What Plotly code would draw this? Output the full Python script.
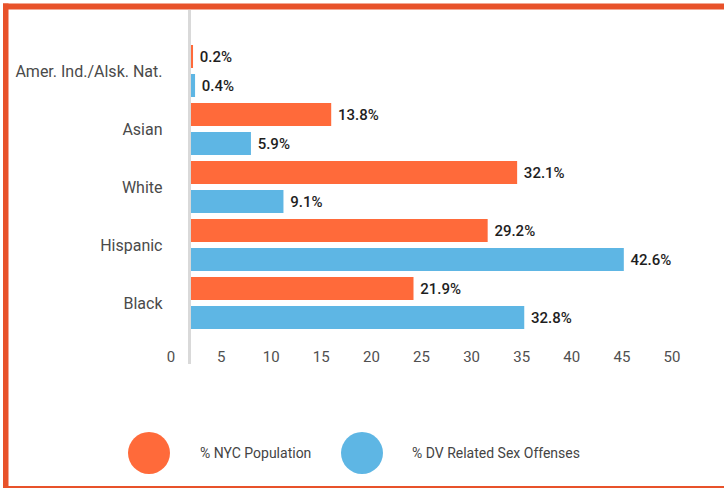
import plotly.graph_objects as go

categories = ["Amer. Ind./Alsk. Nat.", "Asian", "White", "Hispanic", "Black"]
nyc_population = [0.2, 13.8, 32.1, 29.2, 21.9]
dv_sex_offenses = [0.4, 5.9, 9.1, 42.6, 32.8]
series_names = ["% NYC Population", "% DV Related Sex Offenses"]
tick_values = [0, 5, 10, 15, 20, 25, 30, 35, 40, 45, 50]

ORANGE = "#FF6A3A"
BLUE = "#5EB6E4"
BORDER = "#E8522A"
FONT = "Roboto"

W, H = 724, 488
L, R, T, B = 150, 10, 10, 148
PW, PH = W - L - R, H - T - B


def px(x):
    return (x - L) / PW


def py(y):
    return (H - B - y) / PH


value_font = dict(family=FONT, size=15, color="#1E1E1E", weight=500)

fig = go.Figure()
fig.add_trace(go.Bar(
    y=categories, x=nyc_population, orientation="h", name=series_names[0],
    marker=dict(color=ORANGE, line=dict(width=0)),
    text=[f"\u00a0{v}%" for v in nyc_population], textposition="outside",
    textfont=value_font, cliponaxis=False, showlegend=False,
))
fig.add_trace(go.Bar(
    y=categories, x=dv_sex_offenses, orientation="h", name=series_names[1],
    marker=dict(color=BLUE, line=dict(width=0)),
    text=[f"\u00a0{v}%" for v in dv_sex_offenses], textposition="outside",
    textfont=value_font, cliponaxis=False, showlegend=False,
))
# invisible trace to carry the tick axis
fig.add_trace(go.Scatter(x=[tick_values[0], tick_values[-1]], y=[categories[0], categories[0]],
                         xaxis="x2", yaxis="y", mode="markers",
                         marker=dict(opacity=0), hoverinfo="skip", showlegend=False))

bar_scale = 10.16
x_start_px = 189.5
dom0 = px(x_start_px)
x_range = [(x_start_px - 191) / bar_scale, (L + PW - 191) / bar_scale]
tick_scale = 10.02
tick_zero_px = 171
x2_range = [(L - tick_zero_px) / tick_scale, (L + PW - tick_zero_px) / tick_scale]

cat_px = 58.0
top_val = -(71 - T) / cat_px
bot_val = 4 + (H - B - 303) / cat_px

fig.update_layout(
    width=W, height=H,
    margin=dict(l=L, r=R, t=T, b=B),
    paper_bgcolor="white", plot_bgcolor="rgba(0,0,0,0)",
    barmode="group", bargap=0.0, bargroupgap=0.2,
    font=dict(family=FONT, size=15, color="#555555"),
    xaxis=dict(domain=[dom0, 1], range=x_range, showgrid=False, zeroline=False,
               showticklabels=False, showline=False, fixedrange=True),
    xaxis2=dict(domain=[0, 1], range=x2_range, anchor="y", showgrid=False, zeroline=False,
                tickvals=tick_values, ticks="outside", ticklen=3, tickcolor="rgba(0,0,0,0)",
                showline=False,
                tickfont=dict(family=FONT, size=15, color="#505050")),
    yaxis=dict(range=[bot_val, top_val], showgrid=False, zeroline=False, showline=False,
               ticks="", ticklabelstandoff=26,
               tickfont=dict(family=FONT, size=16, color="#4A4A4A")),
    showlegend=False,
)

shapes = []
# axis line
shapes.append(dict(type="line", xref="paper", yref="paper", x0=px(189.5), x1=px(189.5),
                   y0=py(364), y1=py(10), line=dict(color="#D9D9D9", width=3), layer="above"))
# border
shapes.append(dict(type="rect", xref="paper", yref="paper", x0=px(3), x1=px(724), y0=py(9.5), y1=py(3.5),
                   fillcolor=BORDER, line=dict(width=0)))
shapes.append(dict(type="rect", xref="paper", yref="paper", x0=px(3), x1=px(8.5), y0=py(488), y1=py(3.5),
                   fillcolor=BORDER, line=dict(width=0)))
shapes.append(dict(type="rect", xref="paper", yref="paper", x0=px(3), x1=px(724), y0=py(488), y1=py(486),
                   fillcolor=BORDER, line=dict(width=0)))
# legend circles
legend_items = [(149, 453, 198, ORANGE, series_names[0]), (362, 453, 410, BLUE, series_names[1])]
annotations = []
for cx, cy, tx, col, name in legend_items:
    r = 21
    shapes.append(dict(type="circle", xref="paper", yref="paper", x0=px(cx - r), x1=px(cx + r),
                       y0=py(cy + r), y1=py(cy - r), fillcolor=col, line=dict(width=0)))
    annotations.append(dict(xref="paper", yref="paper", x=px(tx), y=py(cy), text=name,
                            showarrow=False, xanchor="left", yanchor="middle",
                            font=dict(family=FONT, size=14, color="#444444")))

fig.update_layout(shapes=shapes, annotations=annotations)
fig.write_html("out.html", config={"displayModeBar": False},
               post_script="document.body.style.margin='0';")
